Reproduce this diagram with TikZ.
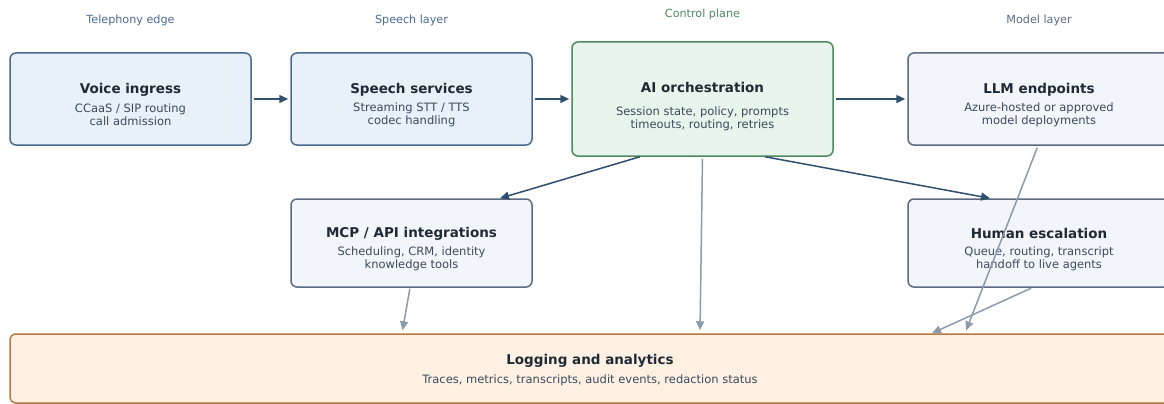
\documentclass[tikz,border=0pt]{standalone}
\usepackage{fontspec}
\setmainfont{DejaVu Sans}
\usetikzlibrary{arrows.meta}

\definecolor{bluefill}{HTML}{E8F0FA}
\definecolor{blueline}{HTML}{4A6A90}
\definecolor{greyfill}{HTML}{F2F5FA}
\definecolor{greyline}{HTML}{5B6B82}
\definecolor{greenfill}{HTML}{E7F5EC}
\definecolor{greenline}{HTML}{4E8A60}
\definecolor{orangefill}{HTML}{FEF1E3}
\definecolor{orangeline}{HTML}{B5793E}
\definecolor{flowdark}{HTML}{2F4F6F}
\definecolor{flowgrey}{HTML}{8C9AAB}
\definecolor{titlecol}{HTML}{1F2A37}
\definecolor{subcol}{HTML}{3A4A5C}

\tikzset{
  box/.style={rounded corners=6pt, line width=1.5pt, inner sep=0pt},
  bluebox/.style={box, draw=blueline, fill=bluefill, minimum width=241pt, minimum height=92pt},
  greybox/.style={box, draw=greyline, fill=greyfill, minimum height=88pt},
  title/.style={text=titlecol, font=\bfseries\fontsize{13.5}{16}\selectfont, inner sep=0pt},
  sub/.style={text=subcol, font=\fontsize{11.5}{13}\selectfont, align=center, inner sep=0pt},
  layer/.style={font=\fontsize{11.2}{13}\selectfont, inner sep=0pt},
  flow/.style={-{Triangle[length=9pt,width=8pt]}, line width=1.5pt, draw=flowdark},
  feed/.style={-{Triangle[length=9pt,width=8pt]}, line width=1.5pt, draw=flowgrey},
}

\begin{document}
\begin{tikzpicture}[x=1pt, y=-1pt]
\useasboundingbox (0,0) rectangle (1164,404);

%Layer labels
\node[layer, text=blueline] (lblTel) at (130.5,20.5) {Telephony edge};
\node[layer, text=blueline] (lblSpeech) at (411.5,20.5) {Speech layer};
\node[layer, text=greenline] (lblCtrl) at (702.5,14.5) {Control plane};
\node[layer, text=greyline] (lblModel) at (1039,20.5) {Model layer};

%Top row
\node[bluebox] (voice) at (130.5,99) {};
\node[title] (voiceT) at (130.5,89.5) {Voice ingress};
\node[sub] (voiceS) at (130.5,114.5) {CCaaS / SIP routing\\call admission};

\node[bluebox] (speech) at (411.5,99) {};
\node[title] (speechT) at (411.5,89.5) {Speech services};
\node[sub] (speechS) at (411.5,114.5) {Streaming STT / TTS\\codec handling};

\node[box, draw=greenline, fill=greenfill, minimum width=261pt, minimum height=114pt] (ai) at (702.5,99) {};
\node[title] (aiT) at (702.5,87) {AI orchestration};
\node[sub] (aiS) at (702.5,118.5) {Session state, policy, prompts\\timeouts, routing, retries};

\node[greybox, minimum width=262pt, minimum height=92pt] (llm) at (1039,99) {};
\node[title] (llmT) at (1039,89.5) {LLM endpoints};
\node[sub] (llmS) at (1039,114.5) {Azure-hosted or approved\\model deployments};

%Middle row
\node[greybox, minimum width=241pt] (mcp) at (411.5,243) {};
\node[title] (mcpT) at (411.5,233.5) {MCP / API integrations};
\node[sub] (mcpS) at (411.5,258.5) {Scheduling, CRM, identity\\knowledge tools};

\node[greybox, minimum width=262pt] (human) at (1039,243) {};
\node[title] (humanT) at (1039,233.5) {Human escalation};
\node[sub] (humanS) at (1039,258.5) {Queue, routing, transcript\\handoff to live agents};

%Bottom
\node[box, draw=orangeline, fill=orangefill, minimum width=1160pt, minimum height=69pt] (logs) at (590,368.5) {};
\node[title] (logsT) at (590,361) {Logging and analytics};
\node[sub] (logsS) at (590,380.5) {Traces, metrics, transcripts, audit events, redaction status};

%Arrows
\draw[flow, shorten <=2pt, shorten >=2pt] (voice.east) -- (speech.west);
\draw[flow, shorten <=2pt, shorten >=2pt] (speech.east) -- (ai.west);
\draw[flow, shorten <=2pt, shorten >=2pt] (ai.east) -- (llm.west);
\draw[flow] ([xshift=-62.5pt]ai.south) -- ([xshift=88.5pt]mcp.north);
\draw[flow] ([xshift=62.5pt]ai.south) -- ([xshift=-49pt]human.north);

\draw[feed, shorten <=2pt, shorten >=3pt] (ai.south) -- ([xshift=110pt]logs.north);
\draw[feed, shorten <=1pt, shorten >=3pt] ([xshift=-1.5pt]mcp.south) -- ([xshift=-188pt]logs.north);
\draw[feed, shorten <=2pt, shorten >=3pt] ([xshift=-1pt]llm.south) -- ([xshift=375pt]logs.north);
\draw[feed, shorten <=1pt] ([xshift=-7pt]human.south) -- ([xshift=342pt]logs.north);
\end{tikzpicture}
\end{document}
